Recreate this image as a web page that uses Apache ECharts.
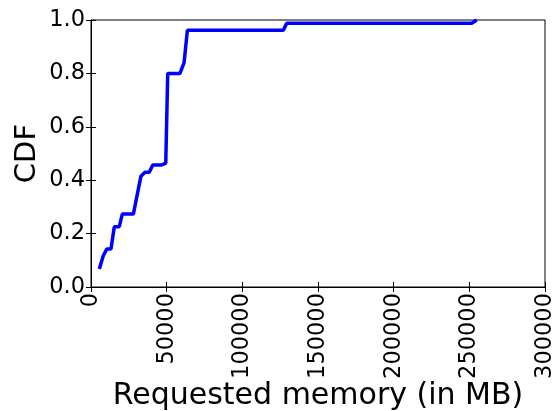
<!DOCTYPE html>
<html>
<head>
<meta charset="utf-8">
<script src="https://cdn.jsdelivr.net/npm/echarts@6/dist/echarts.min.js"></script>
<style>
  html, body { margin: 0; padding: 0; background: #fff; }
  #chart { width: 555px; height: 411px; }
</style>
</head>
<body>
<div id="chart"></div>
<script>
// requested memory (MB) and CDF values
const memoryMB = [5500, 8100, 10400, 13200, 15400, 18700, 20700, 28000, 33000, 35700,
  38500, 40800, 46700, 49400, 50700, 58800, 61500, 63700, 127100, 129300, 251600, 254900];
const cdfValues = [0.067, 0.117, 0.142, 0.142, 0.226, 0.226, 0.273, 0.273, 0.415, 0.43,
  0.43, 0.457, 0.457, 0.464, 0.80, 0.80, 0.84, 0.962, 0.962, 0.988, 0.988, 1.0];

const xTicks = [0, 50000, 100000, 150000, 200000, 250000, 300000];
const yTicks = [0, 0.2, 0.4, 0.6, 0.8, 1.0];

const font = "DejaVu Sans";

function chartSetup(container) {
  let myChart = echarts.init(document.getElementById(container));
  let lineData = memoryMB.map((m, i) => [m, cdfValues[i]]);

  // ticks only, for top and right spines
  const tickOnly = {
    axisLine: { show: false },
    axisTick: { show: true, inside: true, length: 5, lineStyle: { color: "#000" } },
    axisLabel: { show: false },
    splitLine: { show: false }
  };

  const options = {
    animation: false,
    grid: {
      left: 91,
      right: 10,
      top: 20,
      bottom: 124,
      containLabel: false,
      outerBoundsMode: "none",
      show: true,
      borderColor: "#000",
      borderWidth: 1,
      backgroundColor: "#fff"
    },
    xAxis: [
      {
        type: "value",
        min: xTicks[0],
        max: xTicks[xTicks.length - 1],
        interval: 50000,
        position: "bottom",
        name: "Requested memory (in MB)",
        nameLocation: "middle",
        nameGap: 94,
        nameMoveOverlap: false,
        nameTextStyle: { fontFamily: font, fontSize: 30, color: "#000" },
        axisLine: { show: true, lineStyle: { color: "#000" } },
        axisTick: { show: true, inside: true, length: 5, lineStyle: { color: "#000" } },
        axisLabel: {
          rotate: 90,
          margin: 6,
          fontFamily: font,
          fontSize: 22.5,
          color: "#000",
          showMinLabel: true,
          showMaxLabel: true,
          formatter: (v) => String(v)
        },
        splitLine: { show: false }
      },
      Object.assign({
        type: "value",
        min: xTicks[0],
        max: xTicks[xTicks.length - 1],
        interval: 50000,
        position: "top"
      }, tickOnly)
    ],
    yAxis: [
      {
        type: "value",
        min: yTicks[0],
        max: yTicks[yTicks.length - 1],
        interval: 0.2,
        position: "left",
        name: "CDF",
        nameLocation: "middle",
        nameGap: 49,
        nameMoveOverlap: false,
        nameTextStyle: { fontFamily: font, fontSize: 29, color: "#000" },
        axisLine: { show: true, lineStyle: { color: "#000" } },
        axisTick: { show: true, inside: true, length: 5, lineStyle: { color: "#000" } },
        axisLabel: {
          margin: 6,
          fontFamily: font,
          fontSize: 22.5,
          color: "#000",
          formatter: (v) => v.toFixed(1)
        },
        splitLine: { show: false }
      },
      Object.assign({
        type: "value",
        min: yTicks[0],
        max: yTicks[yTicks.length - 1],
        interval: 0.2,
        position: "right"
      }, tickOnly)
    ],
    series: [
      {
        type: "line",
        xAxisIndex: 0,
        yAxisIndex: 0,
        data: lineData,
        showSymbol: false,
        clip: false,
        lineStyle: { color: "#0000ff", width: 3.5 },
        itemStyle: { color: "#0000ff" }
      }
    ]
  };
  myChart.setOption(options);
}
chartSetup("chart");
</script>
</body>
</html>
